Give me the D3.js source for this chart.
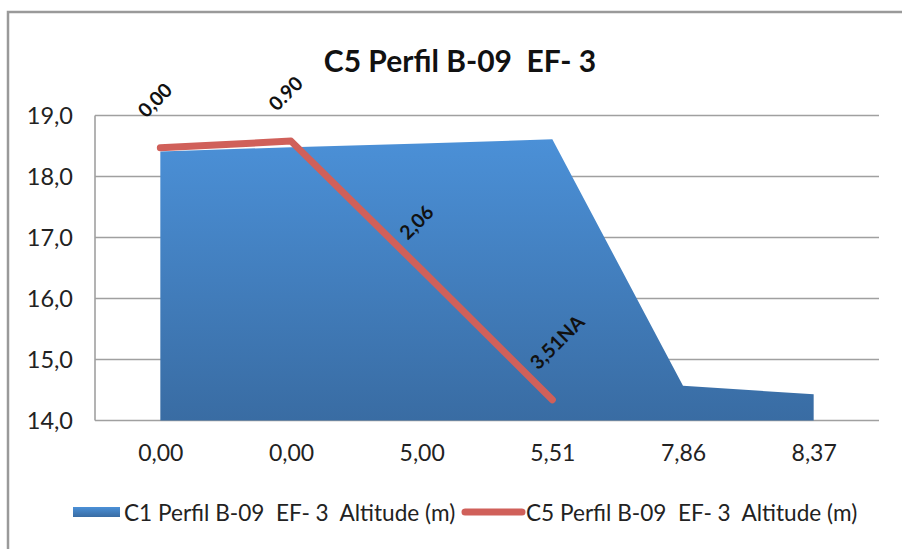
<!DOCTYPE html>
<html><head><meta charset="utf-8">
<script src="https://cdn.jsdelivr.net/npm/d3@7"></script>
<style>
html,body{margin:0;padding:0;background:#fff;}
svg{display:block;font-family:Lato,"Open Sans",sans-serif;}
svg text{white-space:pre;}
</style></head>
<body>
<svg id="chart" width="902" height="549"></svg>
<script>
const title = "C5 Perfil B-09  EF- 3";
const categories = ["0,00","0,00","5,00","5,51","7,86","8,37"];
const areaName = "C1 Perfil B-09  EF- 3  Altitude (m)";
const areaValues = [18.41, 18.48, 18.54, 18.61, 14.57, 14.43];
const lineName = "C5 Perfil B-09  EF- 3  Altitude (m)";
const lineValues = [18.47, 18.58, 16.47, 14.34];
const lineLabels = ["0,00","0.90","2,06","3,51NA"];
const yTicks = [14,15,16,17,18,19];

const svg = d3.select("#chart");
const W = 902, H = 549;
const plot = {left:95, right:879, top:115.5, bottom:420.5};

// outer frame
svg.append("rect").attr("x",8).attr("y",12).attr("width",W+20).attr("height",H+20)
  .attr("fill","#fff").attr("stroke","#9a9a9a").attr("stroke-width",2.5);

const idx = d3.range(categories.length);
const x = d3.scaleBand().domain(idx).range([plot.left, plot.right]);
const xc = i => x(i) + x.bandwidth()/2;
const y = d3.scaleLinear().domain([14,19]).range([plot.bottom, plot.top]);

const defs = svg.append("defs");
const g = defs.append("linearGradient").attr("id","areaGrad")
  .attr("gradientUnits","userSpaceOnUse")
  .attr("x1",0).attr("x2",0).attr("y1", y(18.6)).attr("y2", y(14));
g.append("stop").attr("offset","0%").attr("stop-color","#4b90d7");
g.append("stop").attr("offset","100%").attr("stop-color","#396ca3");
const lgGrad = defs.append("linearGradient").attr("id","legGrad").attr("x1",0).attr("y1",0).attr("x2",0).attr("y2",1);
lgGrad.append("stop").attr("offset","0%").attr("stop-color","#4b90d7");
lgGrad.append("stop").attr("offset","100%").attr("stop-color","#396ca3");

// gridlines
svg.append("g").selectAll("line").data(yTicks).join("line")
  .attr("x1",plot.left).attr("x2",plot.right)
  .attr("y1",d=>y(d)).attr("y2",d=>y(d))
  .attr("stroke","#a0a0a0").attr("stroke-width",1.6);
svg.append("line").attr("x1",plot.left).attr("x2",plot.left).attr("y1",plot.top).attr("y2",plot.bottom)
  .attr("stroke","#a0a0a0").attr("stroke-width",1.6);

// y tick labels
const yAxis = d3.axisLeft(y).tickValues(yTicks).tickSize(0).tickPadding(22)
  .tickFormat(d => d3.format(".1f")(d).replace(".", ","));
const ya = svg.append("g").attr("transform",`translate(${plot.left},0)`).call(yAxis);
ya.select(".domain").remove();
ya.selectAll("text").attr("font-size",23.5).attr("fill","#222").attr("font-family","Lato, sans-serif");

// x tick labels
const xAxis = d3.axisBottom(d3.scalePoint().domain(idx).range([xc(0), xc(idx.length-1)]))
  .tickSize(0).tickPadding(24).tickFormat(i => categories[i]);
const xa = svg.append("g").attr("transform",`translate(0,${plot.bottom})`).call(xAxis);
xa.select(".domain").remove();
xa.selectAll("text").attr("font-size",23).attr("fill","#222").attr("font-family","Lato, sans-serif");

// area
const area = d3.area().x((d,i)=>xc(i)).y0(y(14)).y1(d=>y(d));
svg.append("path").datum(areaValues).attr("d",area).attr("fill","url(#areaGrad)");

// line
const line = d3.line().x((d,i)=>xc(i)).y(d=>y(d));
svg.append("path").datum(lineValues).attr("d",line).attr("fill","none")
  .attr("stroke","#d0605a").attr("stroke-width",7).attr("stroke-linecap","round").attr("stroke-linejoin","round");

// data labels
svg.append("g").selectAll("text").data(lineValues).join("text")
  .attr("transform",(d,i)=>`translate(${xc(i)-14},${y(d)-29}) rotate(-45)`)
  .attr("font-size",19.5).attr("font-weight","bold").attr("fill","#111")
  .text((d,i)=>lineLabels[i]);

// title
svg.append("text").attr("x",460).attr("y",72).attr("text-anchor","middle")
  .attr("font-size",30).attr("font-weight","bold").attr("fill","#111").text(title);

// legend
const lg = svg.append("g");
lg.append("rect").attr("x",73).attr("y",507).attr("width",47).attr("height",10).attr("fill","url(#legGrad)");
lg.append("text").attr("x",124).attr("y",521).attr("font-size",22.6).attr("fill","#222").text(areaName);
lg.append("line").attr("x1",465).attr("x2",522).attr("y1",512).attr("y2",512)
  .attr("stroke","#d0605a").attr("stroke-width",7).attr("stroke-linecap","round");
lg.append("text").attr("x",526).attr("y",521).attr("font-size",22.6).attr("fill","#222").text(lineName);
</script>
</body></html>
